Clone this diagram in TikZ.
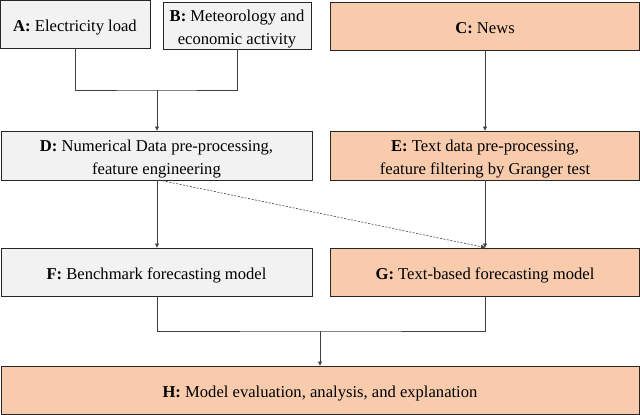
\documentclass[tikz,border=0pt]{standalone}
\usepackage{fontspec}
\setmainfont{Liberation Serif}
\usetikzlibrary{arrows.meta}
\definecolor{boxgray}{HTML}{F2F2F2}
\definecolor{boxorange}{HTML}{F8CBAD}
\definecolor{lineg}{HTML}{404040}
\newcommand\mytopstrut{\rule{0pt}{19pt}}
\newcommand\mybotstrut{\rule[-4pt]{0pt}{4pt}}
\begin{document}
\begin{tikzpicture}[x=1pt,y=1pt,
  box/.style={draw=black!85, line width=0.9pt, inner sep=0pt, align=center,
    font=\fontsize{16.6}{22.5}\selectfont},
  gbox/.style={box, fill=boxgray},
  obox/.style={box, fill=boxorange},
  conn/.style={draw=lineg, line width=0.6pt},
  arr/.style={conn, -{Triangle[length=4pt,width=4pt]}}]
\useasboundingbox (0,0) rectangle (640,-415);
\node[gbox, minimum width=150, minimum height=48] (A) at (75,-24) {\mytopstrut\textbf{A:} Electricity load\mybotstrut};
\node[gbox, minimum width=148, minimum height=47] (B) at (237,-25.5) {\mytopstrut\textbf{B:} Meteorology and\\economic activity\mybotstrut};
\node[obox, minimum width=309, minimum height=48] (C) at (485,-26) {\mytopstrut\textbf{C:} News\mybotstrut};
\node[gbox, minimum width=311, minimum height=49] (D) at (156.5,-155.5) {\mytopstrut\textbf{D:} Numerical Data pre-processing,\\feature engineering\mybotstrut};
\node[obox, minimum width=309, minimum height=49] (E) at (485,-155.5) {\mytopstrut\textbf{E:} Text data pre-processing,\\feature filtering by Granger test\mybotstrut};
\node[gbox, minimum width=311, minimum height=48] (F) at (156.5,-272) {\mytopstrut\textbf{F:} Benchmark forecasting model\mybotstrut};
\node[obox, minimum width=309, minimum height=48] (G) at (485,-272) {\mytopstrut\textbf{G:} Text-based forecasting model\mybotstrut};
\node[obox, minimum width=638, minimum height=48] (H) at (320,-390) {\mytopstrut\textbf{H:} Model evaluation, analysis, and explanation\mybotstrut};
\coordinate (j1) at (157,-90);
\coordinate (j2) at (320,-331);
\draw[conn] (A.south) |- (j1) -| (B.south);
\draw[arr] (j1) -- (j1 |- D.north);
\draw[arr] (C.south) -- (E.north);
\draw[arr] (D.south -| j1) -- (F.north -| j1);
\draw[arr] (E.south) -- (G.north);
\draw[arr, dashed, dash pattern=on 2pt off 1.5pt] (159,-180) -- (G.north);
\draw[conn] (F.south -| j1) |- (j2) -| (G.south);
\draw[arr] (j2) -- (j2 |- H.north);
\end{tikzpicture}
\end{document}
